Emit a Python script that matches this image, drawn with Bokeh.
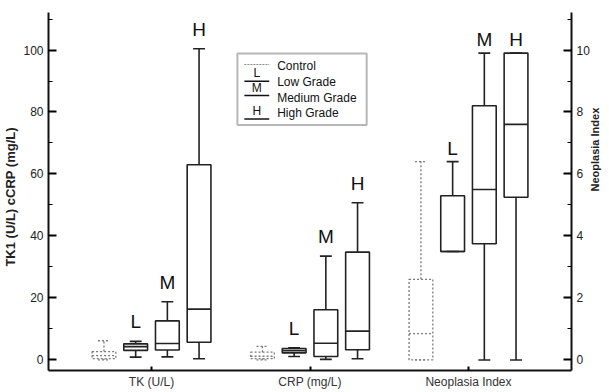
import math
from bokeh.plotting import figure
from bokeh.models import (Range1d, LinearAxis, FixedTicker, SingleIntervalTicker,
                          ColumnDataSource, Label, BoxAnnotation)
from bokeh.core.properties import value
from bokeh.embed import file_html
from bokeh.resources import INLINE

# ---------------- data ----------------
categories = ["TK (U/L)", "CRP (mg/L)", "Neoplasia Index"]
groups = ["Control", "Low Grade", "Medium Grade", "High Grade"]
group_letters = ["", "L", "M", "H"]

tk_lower = [0.0, 0.9, 1.0, 0.4]
tk_q1 = [0.4, 3.1, 3.2, 5.7]
tk_median = [1.4, 4.3, 5.3, 16.4]
tk_q3 = [2.7, 5.2, 12.6, 63.0]
tk_upper = [6.2, 6.0, 18.8, 100.4]

crp_lower = [0.0, 1.1, 0.2, 0.4]
crp_q1 = [0.4, 2.3, 1.1, 3.3]
crp_median = [1.2, 3.0, 5.4, 9.3]
crp_q3 = [2.5, 3.7, 16.2, 34.8]
crp_upper = [4.4, 3.9, 33.5, 50.7]

ni_lower = [0.0, 3.5, 0.0, 0.0]
ni_q1 = [0.0, 3.5, 3.75, 5.25]
ni_median = [0.85, 3.5, 5.5, 7.6]
ni_q3 = [2.6, 5.3, 8.2, 9.9]
ni_upper = [6.4, 6.4, 9.9, 9.9]

# ---------------- layout ----------------
W, H = 609, 392
X0, X1 = 0.35, 3.65
Y0, Y1 = -3.4, 112.1
offsets = [-0.3, -0.1, 0.1, 0.3]
letter_offsets = [-9, -9, -3]
box_w = 0.15
cap_w = 0.075

p = figure(width=W, height=H, output_backend="svg", toolbar_location=None,
           x_range=Range1d(X0, X1), y_range=Range1d(Y0, Y1),
           min_border_left=40, min_border_right=35, min_border_top=12,
           min_border_bottom=22)
p.extra_y_ranges = {"ni": Range1d(Y0 / 10, Y1 / 10)}
p.outline_line_color = None
p.xgrid.visible = False
p.ygrid.visible = False
p.background_fill_color = "white"
p.border_fill_color = "white"

FONT = "Liberation Sans"

# left axis
ya = p.yaxis[0]
ya.ticker = SingleIntervalTicker(interval=20, num_minor_ticks=2)
ya.axis_line_width = 2
ya.axis_line_color = "#111"
ya.major_tick_in = 8
ya.major_tick_out = 0
ya.minor_tick_in = 4
ya.minor_tick_out = 0
ya.major_tick_line_width = 2
ya.major_label_text_font = FONT
ya.major_label_text_font_size = "12px"
ya.major_label_text_color = "#222"
ya.major_label_standoff = 5
ya.axis_label = "TK1 (U/L)    cCRP (mg/L)"
ya.axis_label_text_font = FONT
ya.axis_label_text_font_size = "13px"
ya.axis_label_text_font_style = "bold"
ya.axis_label_text_color = "#222"
ya.axis_label_standoff = 2

# right axis
ra = LinearAxis(y_range_name="ni",
                ticker=SingleIntervalTicker(interval=2, num_minor_ticks=2))
ra.axis_line_width = 2
ra.axis_line_color = "#111"
ra.major_tick_in = 8
ra.major_tick_out = 0
ra.minor_tick_in = 4
ra.minor_tick_out = 0
ra.major_tick_line_width = 2
ra.major_label_text_font = FONT
ra.major_label_text_font_size = "12px"
ra.major_label_text_color = "#222"
ra.major_label_standoff = 5
ra.axis_label = "Neoplasia Index"
ra.axis_label_text_font = FONT
ra.axis_label_text_font_size = "11px"
ra.axis_label_text_font_style = "bold"
ra.axis_label_text_color = "#222"
ra.axis_label_standoff = 2
ra.axis_label_orientation = math.pi / 2
p.add_layout(ra, "right")

# bottom axis
xa = p.xaxis[0]
xa.ticker = FixedTicker(ticks=[1, 2, 3])
xa.major_label_overrides = {i + 1: c for i, c in enumerate(categories)}
xa.axis_line_width = 2
xa.axis_line_color = "#111"
xa.major_tick_in = 4
xa.major_tick_out = 0
xa.major_tick_line_width = 2
xa.minor_tick_line_color = None
xa.major_label_text_font = FONT
xa.major_label_text_font_size = "12px"
xa.major_label_text_color = "#333"
xa.major_label_standoff = 4

series = [
    (tk_lower, tk_q1, tk_median, tk_q3, tk_upper, "default"),
    (crp_lower, crp_q1, crp_median, crp_q3, crp_upper, "default"),
    (ni_lower, ni_q1, ni_median, ni_q3, ni_upper, "ni"),
]

for ci, (lo, q1, med, q3, up, rng) in enumerate(series):
    for is_control in (True, False):
        idx = [g for g in range(len(groups)) if (g == 0) == is_control]
        xs = [ci + 1 + offsets[g] for g in idx]
        src = ColumnDataSource(dict(
            x=xs,
            xl=[x - box_w / 2 for x in xs], xr=[x + box_w / 2 for x in xs],
            cl=[x - cap_w / 2 for x in xs], cr=[x + cap_w / 2 for x in xs],
            lo=[lo[g] for g in idx], q1=[q1[g] for g in idx],
            med=[med[g] for g in idx], q3=[q3[g] for g in idx],
            up=[up[g] for g in idx],
            letter=[group_letters[g] for g in idx],
        ))
        if is_control:
            sty = dict(line_color="#7a7a7a", line_width=1.3, line_dash="2 2")
        else:
            sty = dict(line_color="#222222", line_width=1.6)
        kw = dict(source=src, y_range_name=rng)
        p.quad(left="xl", right="xr", bottom="q1", top="q3", fill_color=None, **sty, **kw)
        p.segment(x0="xl", x1="xr", y0="med", y1="med", **sty, **kw)
        p.segment(x0="x", x1="x", y0="q3", y1="up", **sty, **kw)
        p.segment(x0="x", x1="x", y0="q1", y1="lo", **sty, **kw)
        p.segment(x0="cl", x1="cr", y0="up", y1="up", **sty, **kw)
        p.segment(x0="cl", x1="cr", y0="lo", y1="lo", **sty, **kw)
        if not is_control:
            p.text(x="x", y="up", text="letter", text_align="center",
                   text_baseline="bottom", y_offset=letter_offsets[ci],
                   text_font=value(FONT), text_font_size="19px",
                   text_color="#111", **kw)

# ---------------- manual legend (pixel layout -> data coords) ----------------
FL, FR, FT, FB = 48.0, 574.0, 12.0, 370.0  # frame in screenshot px

def dx(px):
    return X0 + (px - FL) * (X1 - X0) / (FR - FL)

def dy(py):
    return Y0 + (FB - py) * (Y1 - Y0) / (FB - FT)

p.add_layout(BoxAnnotation(left=dx(238), right=dx(368), top=dy(53), bottom=dy(124.5),
                           fill_color=None, line_color="#111", line_width=2))
line_y = [64, 80.7, 95, 118.5]
letter_y = [None, 79.5, 94, 117.5]
text_y = [65, 81.5, 97, 112]
for i, g in enumerate(groups):
    if i == 0:
        p.line(x=[dx(245), dx(270)], y=[dy(line_y[i])] * 2, line_color="#8a8a8a",
               line_width=1.2, line_dash="2 1")
    else:
        p.line(x=[dx(245), dx(270)], y=[dy(line_y[i])] * 2, line_color="#111",
               line_width=1.4)
        p.add_layout(Label(x=dx(257.5), y=dy(letter_y[i]), text=group_letters[i],
                           text_align="center", text_baseline="bottom",
                           text_font=FONT, text_font_size="12px", text_color="#111"))
    p.add_layout(Label(x=dx(278), y=dy(text_y[i]), text=g,
                       text_align="left", text_baseline="middle",
                       text_font=FONT, text_font_size="12px", text_color="#111"))

open("out.html", "w").write(file_html(p, INLINE))
